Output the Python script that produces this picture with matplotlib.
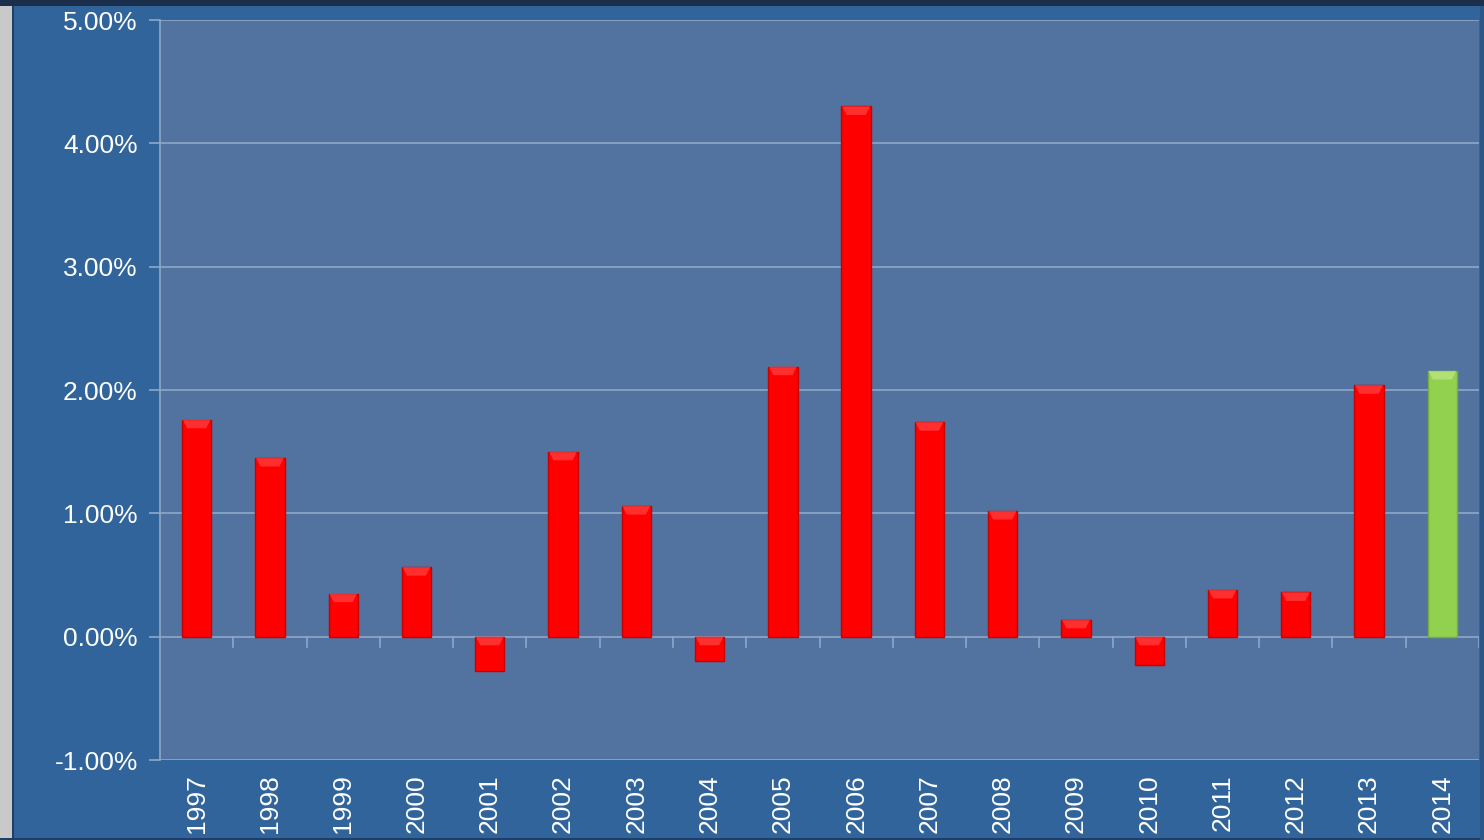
import matplotlib
matplotlib.use("Agg")
import matplotlib.pyplot as plt
from matplotlib.ticker import FuncFormatter, FixedLocator
from matplotlib.patches import Rectangle

years = ["1997", "1998", "1999", "2000", "2001", "2002", "2003", "2004", "2005",
         "2006", "2007", "2008", "2009", "2010", "2011", "2012", "2013", "2014"]
values = [1.76, 1.45, 0.35, 0.565, -0.28, 1.50, 1.06, -0.20, 2.19,
          4.30, 1.74, 1.02, 0.135, -0.23, 0.38, 0.36, 2.04, 2.155]
highlight_year = "2014"
y_ticks = [-1, 0, 1, 2, 3, 4, 5]

fig_bg = "#31649a"
plot_bg = "#52729f"
grid_c = "#8ea7c9"
red = "#ff0000"
green = "#92d050"

plt.rcParams['font.family'] = ['Liberation Sans', 'DejaVu Sans']

fig = plt.figure(figsize=(14.84, 8.4), dpi=100, facecolor=fig_bg)
W, H = 1484, 840

# decorative frame pieces (figure coordinates)
fig.patches.append(Rectangle((0, 0), 12 / W, 1, transform=fig.transFigure,
                             facecolor="#c9c9c9", edgecolor="none", zorder=0))
fig.patches.append(Rectangle((12 / W, 0), 2 / W, 1, transform=fig.transFigure,
                             facecolor="#1f3f66", edgecolor="none", zorder=0))
fig.patches.append(Rectangle((0, 1 - 6 / H), 1, 6 / H, transform=fig.transFigure,
                             facecolor="#1b2f4d", edgecolor="none", zorder=0))
fig.patches.append(Rectangle((0, 0), 1, 2 / H, transform=fig.transFigure,
                             facecolor="#1f3f66", edgecolor="none", zorder=0))
fig.patches.append(Rectangle((1480 / W, 0), 4 / W, 1 - 6 / H, transform=fig.transFigure,
                             facecolor="#2a5688", edgecolor="none", zorder=0))

ax = fig.add_axes([160 / W, 80 / H, (1479 - 160) / W, (760 - 20) / H])
ax.set_facecolor(plot_bg)

x = list(range(len(years)))
colors = [green if y == highlight_year else red for y in years]
edge = ["#76ad3c" if y == highlight_year else "#c80000" for y in years]
ax.bar(x, values, width=0.4, color=colors, edgecolor=edge, linewidth=1.0, zorder=3)

# subtle bevel highlight at the top edge of each bar
for xi, v, y in zip(x, values, years):
    hl = "#c6ee8e" if y == highlight_year else "#ff5050"
    top = max(v, 0)
    cap = min(0.07, abs(v) * 0.5)
    ax.fill([xi - 0.19, xi + 0.19, xi + 0.13, xi - 0.13],
            [top, top, top - cap, top - cap], color=hl, alpha=0.6, zorder=4, lw=0)

ax.set_xlim(-0.5, len(years) - 0.5)
ax.set_ylim(-1, 5)
ax.yaxis.set_major_locator(FixedLocator(y_ticks))
ax.yaxis.set_major_formatter(FuncFormatter(lambda v, p: f"{v:.2f}%"))
ax.grid(axis='y', color=grid_c, linewidth=1.2, zorder=1)
ax.set_axisbelow(True)

ax.set_xticks(x)
ax.set_xticklabels(years, rotation=90)
ax.tick_params(axis='x', length=0, colors='white', labelsize=19, pad=10)
ax.tick_params(axis='y', length=8, color=grid_c, width=1.2, colors='white', labelsize=19, pad=8)
for lab in ax.get_yticklabels():
    lab.set_color('white')

for s in ['top', 'right', 'bottom']:
    ax.spines[s].set_visible(False)
ax.spines['left'].set_color(grid_c)
ax.spines['left'].set_linewidth(1.2)

# category-boundary tick marks on the zero line
for b in range(1, len(years) + 1):
    ax.plot([b - 0.5, b - 0.5], [0, -0.08], color=grid_c, lw=1.2, zorder=2)

fig.savefig("out.png", dpi=100, facecolor=fig_bg)
